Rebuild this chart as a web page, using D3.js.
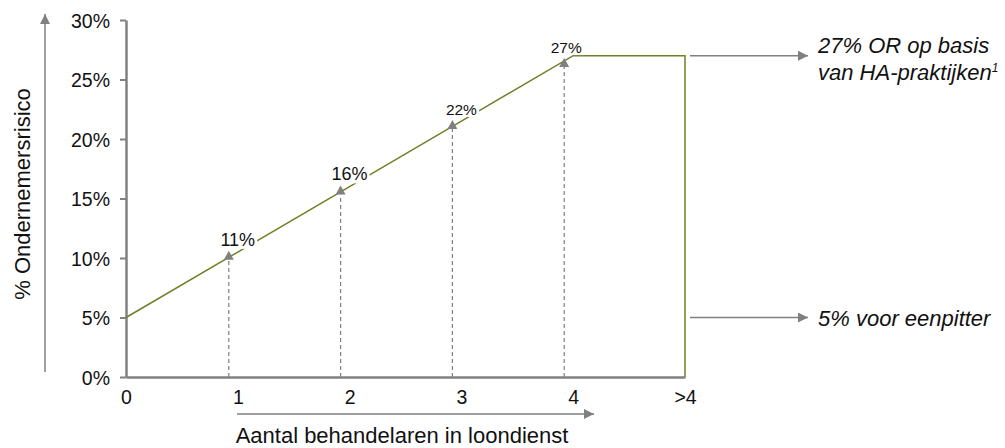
<!DOCTYPE html>
<html><head><meta charset="utf-8">
<script src="https://cdn.jsdelivr.net/npm/d3@7"></script>
<style>body{margin:0;background:#fff}svg{font-family:"Liberation Sans",Arial,sans-serif}</style>
</head><body><svg id="c" width="1005" height="448"></svg>
<script>
const categories = ["0","1","2","3","4",">4"];
const lineValues = [5, 10.5, 16, 21.5, 27, 27];
const markerCats = ["1","2","3","4"];
const markerValues = [10.6, 16.1, 21.6, 26.8];
const markerLabels = ["11%","16%","22%","27%"];
const yTicks = [0,5,10,15,20,25,30];
const notes = [
  {value: 27, lines: ["27% OR op basis", "van HA-praktijken"], sup: "1"},
  {value: 5, lines: ["5% voor eenpitter"], sup: ""}
];
const yTitle = "% Ondernemersrisico";
const xTitle = "Aantal behandelaren in loondienst";

const svg = d3.select("#c");
const x = d3.scalePoint().domain(categories).range([126, 685]);
const y = d3.scaleLinear().domain([0, 30]).range([377, 20]);
const grey = "#808080", green = "#717f26";
const FF = "Liberation Sans, Arial, sans-serif";

const defs = svg.append("defs");
defs.append("marker").attr("id","ah").attr("viewBox","0 0 10 10").attr("refX",10).attr("refY",5)
  .attr("markerWidth",10).attr("markerHeight",10).attr("markerUnits","userSpaceOnUse").attr("orient","auto")
  .append("path").attr("d","M0,0L10,5L0,10Z").attr("fill",grey);

// y axis
const ya = svg.append("g").attr("transform","translate(126,0)")
  .call(d3.axisLeft(y).tickValues(yTicks).tickFormat(d=>d+"%").tickSize(6).tickSizeOuter(0));
ya.select(".domain").attr("stroke",grey).attr("stroke-width",2.5);
ya.selectAll(".tick line").attr("stroke",grey).attr("stroke-width",2);
ya.selectAll(".tick text").attr("font-size",19.5).attr("fill","#111").attr("x",-16).attr("dy","0.36em")
  .attr("font-family",FF);

// dashed marker lines
const off = -9;
markerCats.forEach((c,i)=>{
  const xx = x(c)+off;
  svg.append("line").attr("x1",xx).attr("x2",xx).attr("y1",y(0)).attr("y2",y(markerValues[i])+9)
    .attr("stroke",grey).attr("stroke-width",1.2).attr("stroke-dasharray","4,3");
});

// green line
const pts = categories.map((c,i)=>[x(c), y(lineValues[i])]);
pts.push([x(">4"), y(0)]);
svg.append("path").attr("d", d3.line()(pts)).attr("fill","none").attr("stroke",green).attr("stroke-width",1.5);

markerCats.forEach((c,i)=>{
  const xx = x(c)+off;
  svg.append("path").attr("d",`M${xx},${y(markerValues[i])}l-5,9h10z`).attr("fill",grey);
});

// x axis
const xa = svg.append("g").attr("transform",`translate(0,${y(0)})`)
  .call(d3.axisBottom(x).tickSize(0).tickSizeOuter(0));
xa.select(".domain").attr("stroke",grey).attr("stroke-width",2.5);
xa.selectAll(".tick text").attr("font-size",19.5).attr("fill","#111").attr("dy","0").attr("y",27)
  .attr("font-family",FF);

// marker labels with white backing
markerCats.forEach((c,i)=>{
  const g = svg.append("g");
  const t = g.append("text").attr("x",x(c)+(i===3?-7:0)).attr("y",y(markerValues[i])-5)
    .attr("text-anchor","middle").attr("font-size",i<2?18:15.5).attr("fill","#111").text(markerLabels[i]);
  const b = t.node().getBBox();
  g.insert("rect","text").attr("x",b.x-1).attr("y",b.y+2).attr("width",b.width+3).attr("height",b.height-3).attr("fill","#fff");
});

// axis titles with arrows
svg.append("line").attr("x1",45).attr("x2",45).attr("y1",372).attr("y2",14)
  .attr("stroke",grey).attr("stroke-width",1.5).attr("marker-end","url(#ah)");
svg.append("text").attr("transform","translate(30,194) rotate(-90)").attr("text-anchor","middle")
  .attr("font-size",22).attr("fill","#111").text(yTitle);
svg.append("line").attr("x1",237).attr("x2",594).attr("y1",414).attr("y2",414)
  .attr("stroke",grey).attr("stroke-width",1.5).attr("marker-end","url(#ah)");
svg.append("text").attr("x",402).attr("y",443).attr("text-anchor","middle")
  .attr("font-size",22).attr("fill","#111").text(xTitle);

// annotations
notes.forEach(n=>{
  const yy = y(n.value);
  svg.append("line").attr("x1",690).attr("x2",808).attr("y1",yy).attr("y2",yy)
    .attr("stroke",grey).attr("stroke-width",1.5).attr("marker-end","url(#ah)");
  const t = svg.append("text").attr("x",818).attr("y",yy+(n.lines.length>1?-3:8))
    .attr("font-size",22).attr("font-style","italic").attr("fill","#111");
  n.lines.forEach((l,i)=>{
    t.append("tspan").attr("x",818).attr("dy",i?27:0).text(l);
    if(i===n.lines.length-1 && n.sup) t.append("tspan").attr("font-size",12).attr("dy",-8).text(n.sup);
  });
});
</script></body></html>
